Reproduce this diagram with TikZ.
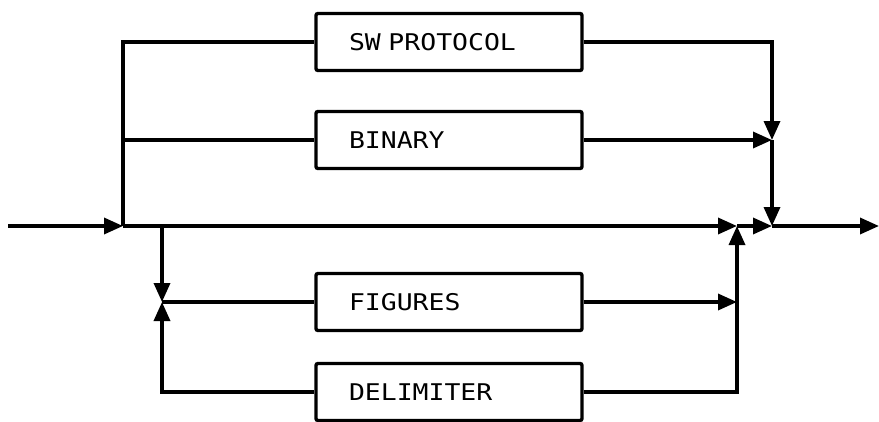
\documentclass[tikz,border=0pt]{standalone}
\usepackage{fontspec}
\newfontfamily\boxfont[FakeStretch=1.15]{DejaVu Sans Mono}
\usetikzlibrary{arrows.meta,positioning}

\begin{document}
\begin{tikzpicture}[x=1pt,y=-1pt,line width=3.4pt,>={Triangle[length=19pt,width=16pt]},
	choice/.style={draw,rectangle,rounded corners=2pt,minimum height=57pt,
		text width=200pt,inner xsep=33pt,align=left,font=\boxfont\fontsize{23}{23}\selectfont}]
		\useasboundingbox (0,0) rectangle (879,421);
		
		% the four boxes
		\node[choice] (sw) at (449,42) {SW PROTOCOL};
		\node[choice] (bin) at (449,140) {BINARY};
		\node[choice] (fig) at (449,302) {FIGURES};
		\node[choice] (del) at (449,392) {DELIMITER};
		
		% the junctions on the main line
		\coordinate (in) at (8,226);
		\coordinate (ja) at (123,226);
		\coordinate (jb) at (162,226);
		\coordinate (jc) at (737,226);
		\coordinate (jd) at (772,226);
		\coordinate (out) at (879,226);
		\coordinate (up) at (jd |- bin.east);
		\coordinate (loop) at (jb |- fig.west);
		\coordinate (back) at (jc |- fig.east);
		
		% the main line
		\draw[->] (in) -- (ja);
		\draw[->] (ja) -- (jc);
		\draw[->] (jc) -- (jd);
		\draw[->] (jd) -- (out);
		
		% the upper branches
		\draw (ja) |- (sw.west);
		\draw (ja |- bin.west) -- (bin.west);
		\draw[->] (sw.east) -| (up);
		\draw[->] (bin.east) -- (up);
		\draw[->] (up) -- (jd);
		
		% the lower branches
		\draw[->] (jb) -- (loop);
		\draw[->] (del.west) -| (loop);
		\draw (loop) -- (fig.west);
		\draw[->] (fig.east) -- (back);
		\draw[->] (del.east) -| (jc);
		\end{tikzpicture}
\end{document}
